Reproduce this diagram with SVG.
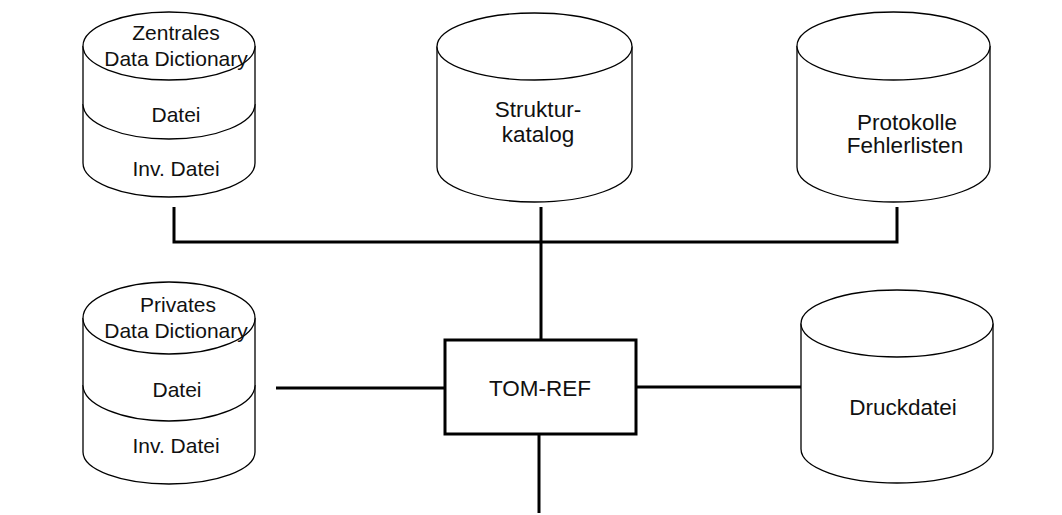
<svg xmlns="http://www.w3.org/2000/svg" width="1062" height="515" viewBox="0 0 1062 515">
  <style>
    .shape { fill: #ffffff; stroke: #000000; stroke-width: 1.3; }
    .edge { fill: none; stroke: #000000; stroke-width: 3; stroke-linecap: butt; stroke-linejoin: miter; }
    .box { fill: #ffffff; stroke: #000000; stroke-width: 3; }
    text { font-family: "Liberation Sans", Arial, sans-serif; fill: #111111; text-anchor: middle; }
    .s { font-size: 21px; }
    .m { font-size: 22.5px; }
  </style>
  <rect width="1062" height="515" fill="#ffffff"/>

  <!-- connectors -->
  <g id="connectors">
    <path class="edge" d="M174 207 V242 H897 V207"/>
    <path class="edge" d="M541 207 V340"/>
    <path class="edge" d="M276 388 H445"/>
    <path class="edge" d="M636 387 H801"/>
    <path class="edge" d="M539 434 V513"/>
  </g>

  <!-- central data dictionary: three-layer drum -->
  <g id="zentrales-dd">
    <path class="shape" d="M83 46 V163 A86 34 0 0 0 255 163 V46"/>
    <path class="shape" d="M83 104 A86 35 0 0 0 255 104" fill="none"/>
    <ellipse class="shape" cx="169" cy="46" rx="86" ry="34"/>
    <text class="s" x="176" y="40">Zentrales</text>
    <text class="s" x="176" y="66">Data Dictionary</text>
    <text class="s" x="176" y="122">Datei</text>
    <text class="s" x="176" y="176">Inv. Datei</text>
  </g>

  <g id="strukturkatalog">
    <path class="shape" d="M437 46.5 V167 A97.5 35 0 0 0 632 167 V46.5"/>
    <ellipse class="shape" cx="534.5" cy="46.5" rx="97.5" ry="33.5"/>
    <text class="m" x="538" y="117">Struktur-</text>
    <text class="m" x="538" y="142">katalog</text>
  </g>

  <g id="protokolle">
    <path class="shape" d="M797 46 V167 A96.5 35 0 0 0 990 167 V46"/>
    <ellipse class="shape" cx="893.5" cy="46" rx="96.5" ry="34"/>
    <text class="m" x="907" y="130">Protokolle</text>
    <text class="m" x="905" y="153">Fehlerlisten</text>
  </g>

  <!-- private data dictionary: three-layer drum -->
  <g id="privates-dd">
    <path class="shape" d="M83 318 V452 A86 32 0 0 0 255 452 V318"/>
    <path class="shape" d="M83 385 A86 36 0 0 0 255 385" fill="none"/>
    <ellipse class="shape" cx="169" cy="318" rx="86" ry="36"/>
    <text class="s" x="178" y="312">Privates</text>
    <text class="s" x="176" y="338">Data Dictionary</text>
    <text class="s" x="177" y="397">Datei</text>
    <text class="s" x="176" y="453">Inv. Datei</text>
  </g>

  <g id="tom-ref">
    <rect class="box" x="445" y="340" width="191" height="94"/>
    <text class="m" x="540" y="396">TOM-REF</text>
  </g>

  <g id="druckdatei">
    <path class="shape" d="M801 323.5 V449 A96 34 0 0 0 993 449 V323.5"/>
    <ellipse class="shape" cx="897" cy="323.5" rx="96" ry="33.5"/>
    <text class="m" x="903" y="415">Druckdatei</text>
  </g>
</svg>
